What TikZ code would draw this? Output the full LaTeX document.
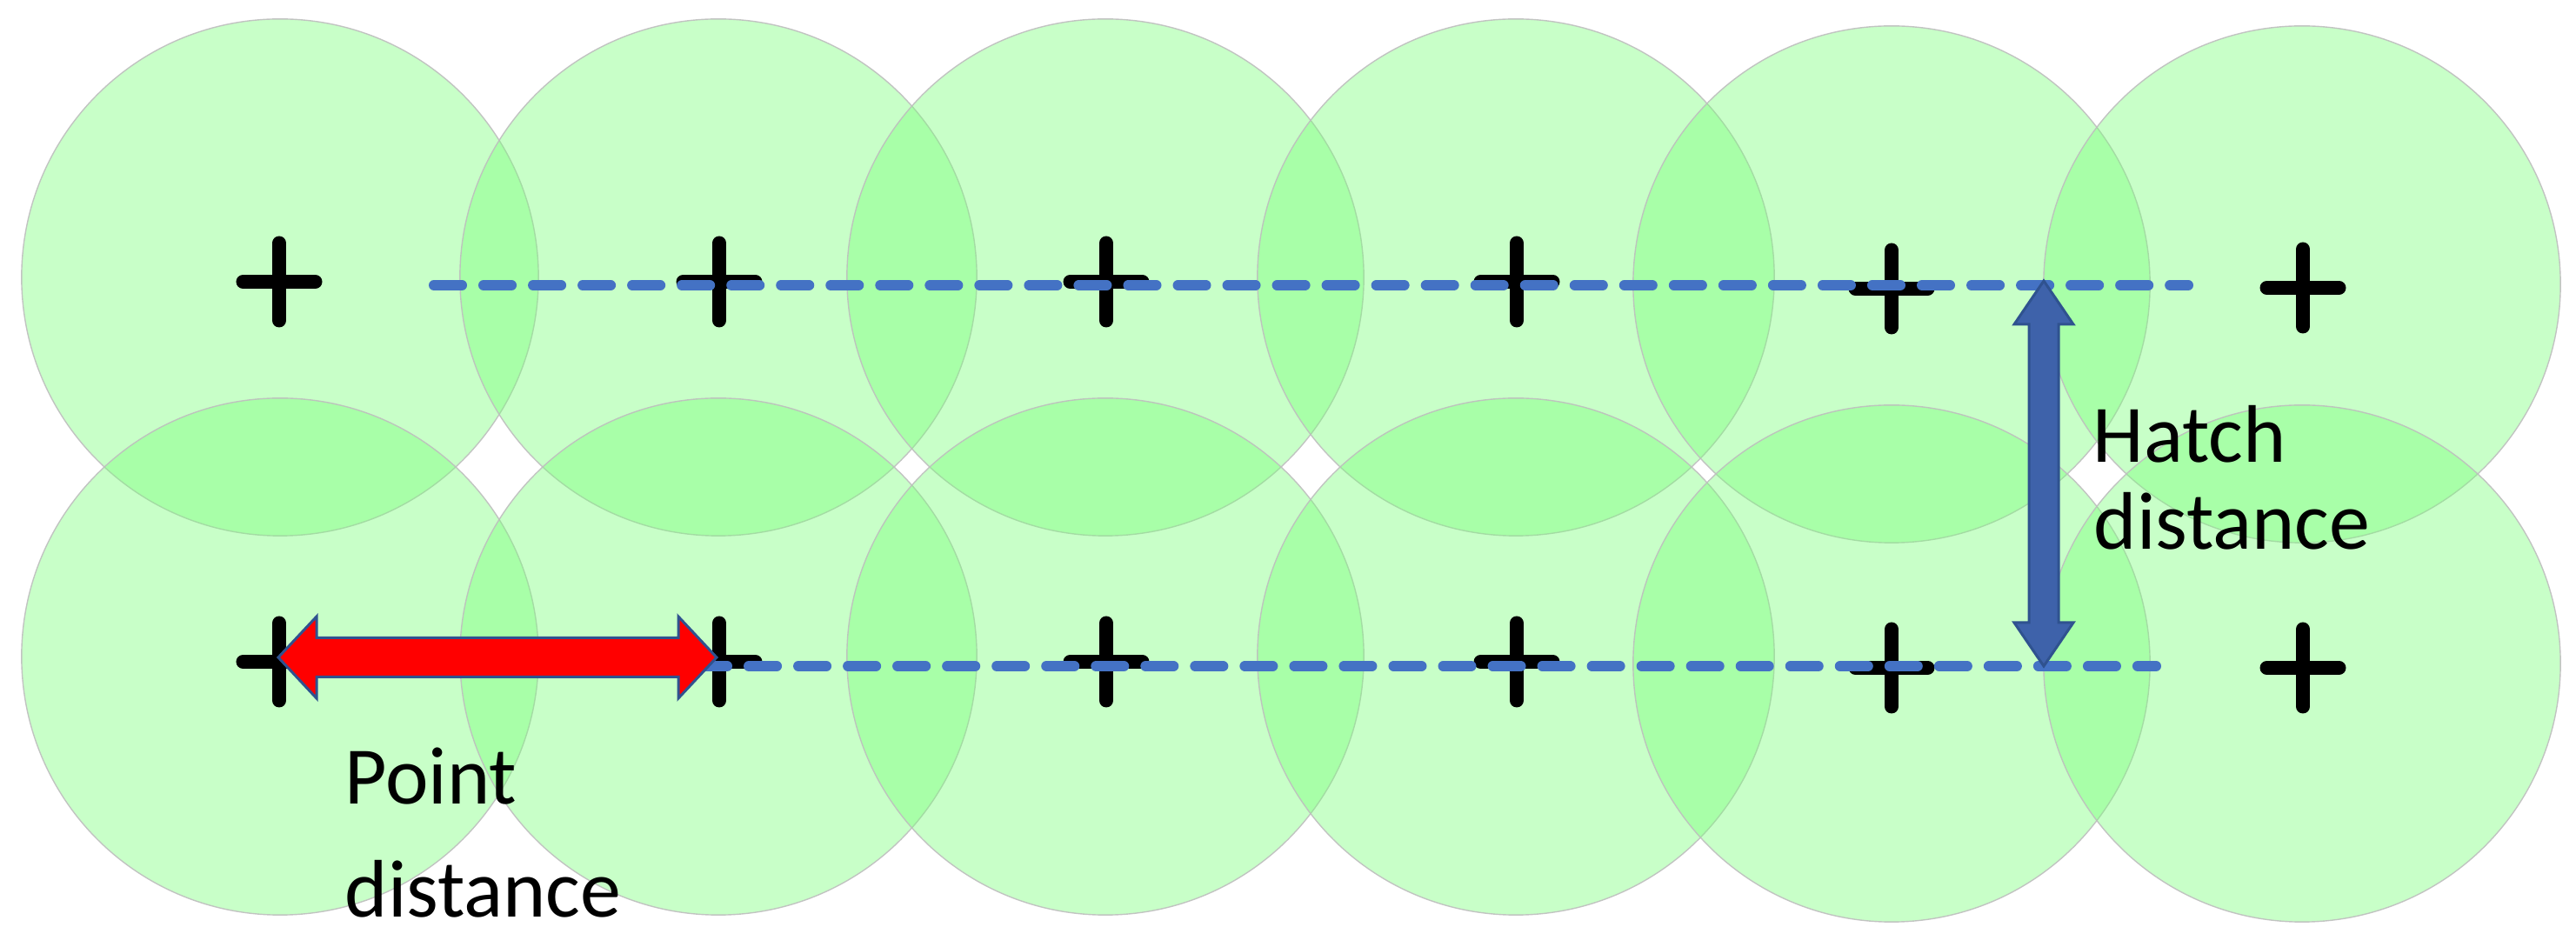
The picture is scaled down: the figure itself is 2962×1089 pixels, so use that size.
\documentclass[tikz,border=0pt]{standalone}
\usepackage{fontspec}
\setmainfont{Carlito}
\usetikzlibrary{calc}
\definecolor{spotgreen}{RGB}{122,255,122}
\definecolor{spotedge}{RGB}{190,190,190}
\definecolor{dashblue}{RGB}{68,114,196}
\definecolor{arrowblue}{RGB}{62,98,170}
\definecolor{edgeblue}{RGB}{47,82,143}
\tikzset{
  spot/.style={fill=spotgreen, fill opacity=0.41, draw=spotedge, draw opacity=0.9, line width=0.014cm},
  crossmark/.pic={\draw[line width=0.16cm, line cap=round] (-41.5,0) -- (41.5,0) (0,-44.5) -- (0,44.5);},
  hatchline/.style={draw=dashblue, line width=0.12cm, line cap=round, dash pattern=on 0.32cm off 0.25cm},
  redarrow/.style={fill=red, draw=edgeblue, line width=0.03cm, line join=miter},
  bluearrow/.style={fill=arrowblue, draw=edgeblue, line width=0.03cm, line join=miter},
  lbl/.style={inner sep=0pt, anchor=base west, font=\fontsize{26.7pt}{30pt}\selectfont}
}
\begin{document}
\begin{tikzpicture}[x=0.01cm,y=-0.01cm]
\useasboundingbox (0,0) rectangle (2962,1089);
% spots
\foreach \x/\yt/\yb [count=\i] in {322/319/755, 826/319/755, 1271/319/755, 1743/319/755, 2175/327/763, 2647/327/763} {
  \coordinate (ct\i) at (\x,\yt);
  \coordinate (cb\i) at (\x,\yb);
  \path[spot] (ct\i) circle[radius=2.97cm];
  \path[spot] (cb\i) circle[radius=2.97cm];
}
% point marks
\foreach \x/\yt/\yb [count=\i] in {321/324/761, 827/324/761, 1272/324/761, 1744/324/761, 2175/332/768, 2648/331/768} {
  \coordinate (pt\i) at (\x,\yt);
  \coordinate (pb\i) at (\x,\yb);
  \pic at (pt\i) {crossmark};
  \pic at (pb\i) {crossmark};
}
% hatch lines
\coordinate (hs) at (499,328);
\coordinate (he) at (2516,328);
\coordinate (bs) at (804,766);
\coordinate (be) at (2479,766);
\draw[hatchline] (hs) -- (he);
\draw[hatchline] (bs) -- (be);
% point distance arrow
\coordinate (pa) at (320,756);
\coordinate (pz) at (824,756);
\draw[redarrow] (pa) -- ($(pa)+(44,-47)$) -- ($(pa)+(44,-22.5)$) -- ($(pz)+(-44,-22.5)$) -- ($(pz)+(-44,-47)$) -- (pz)
  -- ($(pz)+(-44,47)$) -- ($(pz)+(-44,22.5)$) -- ($(pa)+(44,22.5)$) -- ($(pa)+(44,47)$) -- cycle;
% hatch distance arrow
\coordinate (ha) at (2350,323);
\coordinate (hz) at (2350,766);
\draw[bluearrow] (ha) -- ($(ha)+(34,50)$) -- ($(ha)+(17,50)$) -- ($(hz)+(17,-50)$) -- ($(hz)+(34,-50)$) -- (hz)
  -- ($(hz)+(-34,-50)$) -- ($(hz)+(-17,-50)$) -- ($(ha)+(-17,50)$) -- ($(ha)+(-34,50)$) -- cycle;
% labels
\node[lbl] (hatch1) at (2406,532) {Hatch};
\node[lbl] (hatch2) at (2407,632) {distance};
\node[lbl] (point1) at (396,925) {Point};
\node[lbl] (point2) at (396,1055) {distance};
\end{tikzpicture}
\end{document}
